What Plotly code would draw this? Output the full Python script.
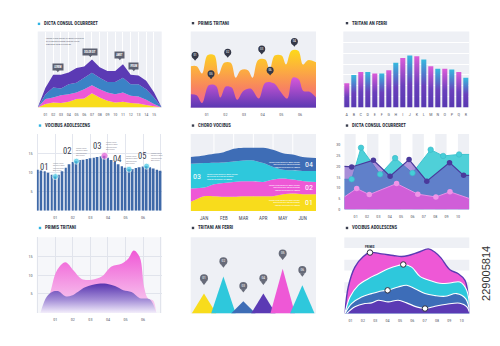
import plotly.graph_objects as go

W, H = 500, 346
FONT = "Liberation Sans Narrow, Roboto Condensed, DejaVu Sans Condensed, Roboto, sans-serif"
BG = "#eef0f5"
TITLE_C = "#2c3040"
TICK_C = "#5a5e6c"
PURPLE = "#5b3ab4"
BLUE = "#3e6db6"
CYAN = "#2ec8dc"
PINK = "#ee58d6"
YELLOW = "#f8dc1c"
DARK = "#3a3e4e"
MARK_CYAN = "#2fb3e3"

# ------------------------------------------------------------------ DATA
titles = ["DICTA CONSUL OCURRERET", "PRIMIS TRITANI", "TRITANI AN FERRI",
          "VOCIBUS ADOLESCENS", "CHORO VOCIBUS", "DICTA CONSUL OCURRERET",
          "PRIMIS TRITANI", "TRITANI AN FERRI", "VOCIBUS ADOLESCENS"]

# Panel 1 : stacked mountains
p1_x = list(range(17))
p1_ticks = [f"{i:02d}" for i in range(1, 16)]
p1_yellow = [0, 4.3, 6.5, 5.7, 7.4, 10.9, 11.7, 18.7, 13, 8.7, 6.5, 7.4, 5.7, 5.2, 3, 1.3, 0]
p1_pink = [0, 6.6, 6.5, 10.4, 10, 8.7, 12.2, 10.4, 10.9, 10.9, 10.9, 12.2, 9.5, 9.1, 7, 3, 0]
p1_blue = [0, 6.5, 13.1, 8.7, 13, 13, 15.2, 16.6, 15.2, 13.9, 16.1, 19.5, 15.2, 16.1, 13.9, 8.7, 0]
p1_purple = [0, 8.6, 16.9, 18.2, 15.6, 19.4, 14.9, 17.3, 13.9, 14.5, 14.5, 17.9, 12.6, 11.6, 11.1, 7, 0]
p1_callout_x = [2.6, 6.8, 10.6, 12.4]
p1_callout_y = [53, 72.6, 68.7, 54.3]
p1_callout_text = ["LOREM", "DOLOR SIT", "AMET", "IPSUM"]
p1_note = "LOREM IPSUM DOLOR SIT AMET CONSECTE<br>ELIT SED DO EIUSMOD TEMPOR INCIDI<br>MAGNA ALIQUA UT ENIM AD"

# Panel 2 : wavy columns
p2_ticks = [f"{i:02d}" for i in range(1, 7)]
p2_orange_x = [0.14, 0.46, 0.75, 1.04, 1.41, 1.64, 1.93, 2.29, 2.55, 2.82, 3.21, 3.46,
               3.75, 4.14, 4.38, 4.64, 5.02, 5.25, 5.54, 5.91, 6.16, 6.43, 6.86]
p2_orange_y = [54.3, 54.3, 44.8, 68.7, 68.7, 43.5, 58.7, 58.7, 39.1, 49.1, 49.1, 39.1,
               62.2, 63, 50, 68.3, 68.3, 56.5, 74.8, 74.8, 56.5, 62.2, 59.6]
p2_purple_x = [0.14, 0.46, 0.75, 1.11, 1.5, 1.73, 2.02, 2.34, 2.63, 2.96, 3.36, 3.79,
               4.14, 4.61, 4.93, 5.32, 5.61, 5.93, 6.18, 6.54, 6.86]
p2_purple_y = [17.4, 16.1, 5.7, 29.1, 28.3, 13, 27.4, 26.1, 10, 21.7, 24.8, 11.7,
               32.6, 31.7, 21.7, 11.7, 39.1, 37, 21.7, 20.4, 13]
p2_pin_x = [0.375, 1.23, 2.125, 3.95, 4.4, 5.7]
p2_pin_y = [68.7, 44.3, 72.6, 77, 49, 87]
p2_pin_text = ["01", "05", "02", "03", "06", "04"]

# Panel 3 : gradient bars
p3_labels = list("ABCDEFGHIJKLMNOPQR")
p3_values = [31.7, 42.6, 46.5, 46.5, 44.8, 44.8, 49.1, 58.7, 65.2, 68.3, 67.4, 63,
             54.3, 50.9, 50.9, 50, 46.5, 39.1]

# Panel 4 : thin bars with highlighted points
p4_x = [round(i * 0.2, 1) for i in range(36)]
p4_values = [10.7, 10.5, 10.3, 9.9, 9.4, 8.9, 9.4, 10.3, 11.2, 12.1, 12.7, 12.9,
             13.2, 13.3, 13.5, 13.7, 13.8, 14.0, 14.2, 14.3, 13.8, 13.2, 12.7, 12.1,
             11.6, 11.2, 10.8, 10.9, 11.1, 11.3, 11.5, 11.6, 11.3, 11.0, 10.7, 10.4]
p4_ticks = [f"{i:02d}" for i in range(1, 7)]
p4_mark_idx = [5, 11, 19, 26, 31]
p4_mark_text = ["01", "02", "03", "04", "05"]
p4_highlight = 19
p4_note = "LOREM IPSUM<br>DOLOR SIT AME<br>CONSECTETUR<br>ADIPISCING"

# Panel 5 : stacked streams
p5_months = ["JAN", "FEB", "MAR", "APR", "MAY", "JUN"]
p5_x = [-0.68, 0, 0.5, 1, 1.5, 2, 2.5, 3, 3.5, 4, 4.5, 5, 5.68]
p5_yellow = [12, 19.3, 19.3, 18.5, 18.5, 19.3, 19.3, 19.3, 19.3, 21.9, 22.7, 21.9, 21.9]
p5_pink = [17.2, 11.2, 15.5, 18, 19.3, 19.3, 19.3, 18.5, 21.5, 20.2, 18.1, 17.2, 15.9]
p5_cyan = [32.2, 31.7, 27.9, 26.6, 26.6, 27.1, 27.1, 24.4, 16.3, 11.5, 12, 12.8, 14.1]
p5_blue = [8.6, 9.9, 11.5, 13.3, 16.3, 16.3, 16.3, 19.8, 22.3, 21.5, 20.6, 18.1, 16.8]
p5_note = "LOREM IPSUM DOLOR SIT AMET CONSEC<br>ADIPISCING ELIT SED DO EIUSMOD<br>TEMPOR INCIDIDUNT UT LABORE"

# Panel 6 : overlapping areas
p6_ticks = [f"{i:02d}" for i in range(1, 11)]
p6_cyan_x = [0, 0.65, 1.47, 3.15, 4.47, 6.0, 7.6, 8.7, 10.1, 11]
p6_cyan_y = [14, 14, 28.6, 16.3, 23.8, 16.9, 27.7, 24.8, 25.5, 25.5]
p6_purple_x = [0, 0.65, 2.56, 4.03, 5.7, 7.26, 9.26, 10.5, 11]
p6_purple_y = [20, 19.7, 22.8, 15.4, 23.1, 13.1, 21.7, 15.8, 15.8]
p6_pink_x = [0, 1.09, 2.2, 4.6, 6.47, 8.06, 9.3, 11]
p6_pink_y = [5.8, 9.7, 6.9, 12.0, 7.1, 5.8, 8.2, 5.1]

# Panel 7 : smooth gradient areas
p7_ticks = [f"{i:02d}" for i in range(1, 7)]
p7_pink_x = [0.34, 0.72, 1.09, 1.57, 2.04, 2.5, 3.08, 3.64, 4.2, 4.77, 5.15, 5.47,
             5.81, 6.06, 6.28, 6.57, 6.75]
p7_pink_y = [0, 5.5, 11.2, 13.4, 11.2, 9.0, 8.8, 9.6, 12.3, 13, 14.3, 16.5,
             14.7, 6.8, 3.8, 3.3, 0]
p7_purple_x = [0.15, 0.53, 0.91, 1.19, 1.57, 1.94, 2.7, 3.45, 3.92, 4.4, 4.87, 5.34,
               5.81, 6.38, 6.75]
p7_purple_y = [0, 4.4, 5.7, 5.7, 4.4, 4.6, 6.8, 7.7, 7.7, 7.1, 6.0, 5.5, 3.9, 3.6, 0]

# Panel 8 : peaks
p8_center = [10.6, 26.1, 42, 58, 73.4, 89.1]
p8_height = [26.1, 48.7, 16.1, 26.1, 58.7, 37]
p8_colors = [YELLOW, CYAN, BLUE, PURPLE, PINK, CYAN]
p8_text = ["01", "02", "03", "04", "05", "06"]

# Panel 9 : nested smooth layers
p9_ticks = [f"{i:02d}" for i in range(1, 11)]
p9_pink_x = [0.54, 0.81, 1.35, 2.03, 2.57, 3.51, 4.46, 5.14, 5.68, 6.49, 7.30, 7.84,
             8.32, 9.05, 9.73, 10.27, 10.54, 10.68]
p9_pink_y = [0, 3.48, 6.09, 7.48, 8.0, 7.83, 7.61, 7.48, 7.61, 8.04, 8.48, 8.04,
             7.30, 5.74, 5.22, 4.35, 2.17, 0]
p9_cyan_x = [0.54, 0.95, 1.62, 2.43, 3.24, 4.05, 4.86, 5.27, 5.95, 6.62, 7.57, 8.24,
             9.05, 9.86, 10.41, 10.68]
p9_cyan_y = [0, 2.17, 3.70, 4.57, 5.22, 5.87, 6.30, 6.43, 6.09, 4.87, 4.26, 3.96,
             4.0, 4.13, 3.04, 0]
p9_blue_x = [0.54, 1.08, 1.89, 2.70, 3.51, 4.0, 4.86, 5.54, 6.22, 7.03, 7.84, 8.65,
             9.59, 10.32, 10.68]
p9_blue_y = [0, 1.30, 2.17, 2.61, 2.96, 3.04, 3.48, 3.70, 3.26, 2.61, 2.35, 2.26,
             2.61, 1.96, 0]
p9_purple_x = [0.68, 1.35, 2.16, 2.70, 3.24, 4.05, 4.86, 5.54, 6.35, 7.03, 7.84, 8.78,
               9.86, 10.41, 10.68]
p9_purple_y = [0, 0.87, 1.30, 1.39, 1.74, 1.52, 1.74, 1.39, 0.87, 0.65, 0.96, 1.22,
               1.35, 0.91, 0]
p9_marks = [("pink", 4), ("cyan", 7), ("blue", 5), ("purple", 9)]
p9_label = "PRIMIS"

stock_id = "229005814"

# ------------------------------------------------------------------ LAYOUT HELPERS
fig = go.Figure()
layout = dict(width=W, height=H, margin=dict(l=0, r=0, t=0, b=0),
              paper_bgcolor="white", plot_bgcolor="rgba(0,0,0,0)", showlegend=False,
              font=dict(family=FONT, size=4, color=TICK_C), hovermode=False)
shapes, annotations = [], []
TICKFONT = dict(family=FONT, size=4.2, color=TICK_C)


def refs(n):
    s = "" if n == 1 else str(n)
    return "x" + s, "y" + s


def make_axes(n, box, xr, yr, xt=None, yt=None, xgrid=None, ygrid=None, bg=None,
              xfont=None):
    left, right, top, bottom = box
    s = "" if n == 1 else str(n)
    xr_, yr_ = refs(n)
    xa = dict(domain=[left / W, right / W], range=xr, anchor=yr_, fixedrange=True,
              zeroline=False, showline=False, ticks="", layer="below traces",
              showgrid=xgrid is not None, gridcolor=xgrid or "white", gridwidth=1,
              tickfont=xfont or TICKFONT, ticklabelstandoff=3)
    ya = dict(domain=[1 - bottom / H, 1 - top / H], range=yr, anchor=xr_, fixedrange=True,
              zeroline=False, showline=False, ticks="", layer="below traces",
              showgrid=ygrid is not None, gridcolor=ygrid or "white", gridwidth=1,
              tickfont=TICKFONT, ticklabelstandoff=3)
    for ax, t in ((xa, xt), (ya, yt)):
        if t is None:
            ax.update(tickmode="array", tickvals=[], showticklabels=False)
        else:
            ax.update(tickmode="array", tickvals=t[0], ticktext=t[1], showticklabels=True)
    layout["xaxis" + s] = xa
    layout["yaxis" + s] = ya
    if bg:
        shapes.append(dict(type="rect", xref=xr_ + " domain", yref=yr_ + " domain",
                           x0=0, x1=1, y0=0, y1=1, fillcolor=bg, line_width=0,
                           layer="below"))


def add(n, **kw):
    xr_, yr_ = refs(n)
    kw.setdefault("showlegend", False)
    kw.setdefault("hoverinfo", "skip")
    fig.add_trace(go.Scatter(xaxis=xr_, yaxis=yr_, **kw))


def title(text, px, py, mark):
    shapes.append(dict(type="rect", xref="paper", yref="paper",
                       x0=(px - 4.2) / W, x1=(px - 1.8) / W,
                       y0=1 - (py + 1.2) / H, y1=1 - (py - 1.2) / H,
                       fillcolor=mark, line_width=0))
    annotations.append(dict(xref="paper", yref="paper", x=px / W, y=1 - py / H,
                            text="<b>" + text + "</b>", showarrow=False,
                            xanchor="left", yanchor="middle",
                            font=dict(family=FONT, size=4.8, color=TITLE_C)))


# ------------------------------------------------------------------ PANEL BOXES (px)
BOX = {
    1: (37.7, 161.7, 31.7, 108), 2: (190.7, 316, 31.7, 108), 3: (343.3, 469.3, 31.7, 108),
    4: (36.7, 161.7, 134.7, 212), 5: (190.7, 316, 134.7, 212.3), 6: (344.3, 469.3, 134.7, 210.7),
    7: (36.7, 161.7, 238.7, 314.7), 8: (190.7, 316, 238.7, 315.3), 9: (344.3, 469.3, 238.7, 315.3),
}
TITLE_POS = {1: (42, 24), 2: (196, 23.3), 3: (350, 23.3), 4: (43, 126.3), 5: (196, 126.3),
             6: (350, 126.3), 7: (43, 229.3), 8: (196, 229.3), 9: (350, 229.3)}
TITLE_MARK = {1: MARK_CYAN, 2: DARK, 3: DARK, 4: MARK_CYAN, 5: DARK, 6: DARK,
              7: MARK_CYAN, 8: DARK, 9: DARK}
for i in range(1, 10):
    title(titles[i - 1], TITLE_POS[i][0], TITLE_POS[i][1], TITLE_MARK[i])

# ------------------------------------------------------------------ PANEL 1
make_axes(1, BOX[1], [0, 16], [0, 100], xt=(list(range(1, 16)), p1_ticks),
          xgrid="white", bg=BG)
for vals, col in ((p1_yellow, YELLOW), (p1_pink, PINK), (p1_blue, "#3b82c6"),
                  (p1_purple, PURPLE)):
    add(1, x=p1_x, y=vals, stackgroup="p1", mode="lines", line=dict(width=0, color=col),
        fillcolor=col)
add(1, x=p1_callout_x, y=[v - 4.6 for v in p1_callout_y], mode="markers",
    marker=dict(symbol="triangle-down", size=3, color="#5c6070"))
for cx, cy, t in zip(p1_callout_x, p1_callout_y, p1_callout_text):
    annotations.append(dict(xref="x", yref="y", x=cx, y=cy, text="<b>" + t + "</b>",
                            showarrow=False, bgcolor="#5c6070", borderpad=1.2,
                            font=dict(family=FONT, size=2.6, color="white")))
annotations.append(dict(xref="x", yref="y", x=0.75, y=87, text=p1_note, showarrow=False,
                        xanchor="left", yanchor="middle", align="left",
                        font=dict(family=FONT, size=2.2, color="#6f7280")))

# ------------------------------------------------------------------ PANEL 2
make_axes(2, BOX[2], [0.14, 6.86], [0, 100], xt=(list(range(1, 7)), p2_ticks), bg=BG)
add(2, x=p2_orange_x, y=p2_orange_y, mode="lines", line=dict(width=0, shape="spline",
    smoothing=1.0), fill="tozeroy",
    fillgradient=dict(type="vertical", start=0, stop=75,
                      colorscale=[[0, "#f2609e"], [0.35, "#f8845f"], [0.7, "#fcb23c"],
                                  [1, "#fdd71b"]]))
add(2, x=p2_purple_x, y=p2_purple_y, mode="lines", line=dict(width=0, shape="spline",
    smoothing=1.0), fill="tozeroy",
    fillgradient=dict(type="vertical", start=0, stop=39,
                      colorscale=[[0, "#5a38b2"], [1, "#d457d8"]]))
shapes.append(dict(type="line", xref="x2 domain", yref="y2", x0=0, x1=1, y0=0, y1=0,
                   line=dict(color=PURPLE, width=1.2)))
add(2, x=p2_pin_x, y=[v - 4.5 for v in p2_pin_y], mode="markers",
    marker=dict(symbol="triangle-down", size=4, color="#343848"))
add(2, x=p2_pin_x, y=p2_pin_y, mode="markers+text", text=p2_pin_text,
    textposition="middle center", textfont=dict(family=FONT, size=3.3, color="white"),
    marker=dict(size=7, color="#343848"))

# ------------------------------------------------------------------ PANEL 3
grid3 = [k * 100 / 7 for k in range(1, 7)]
make_axes(3, BOX[3], [-0.5, 17.5], [0, 100], xt=(list(range(18)), p3_labels),
          yt=(grid3, [""] * 6), ygrid="white", bg=BG)
BW3 = 0.72
for i, h in enumerate(p3_values):
    top = "#db5bd8" if i % 2 == 0 else "#36b9de"
    add(3, x=[i - BW3 / 2, i - BW3 / 2, i + BW3 / 2, i + BW3 / 2, i - BW3 / 2],
        y=[0, h, h, 0, 0], mode="lines", line=dict(width=0), fill="toself",
        fillgradient=dict(type="vertical", start=0, stop=h,
                          colorscale=[[0, "#5637b0"], [0.45, "#6a40bc"], [1, top]]))

# ------------------------------------------------------------------ PANEL 4
make_axes(4, BOX[4], [-0.06, 7.06], [0, 20],
          xt=(list(range(8)), [""] + p4_ticks + [""]),
          yt=([5, 10, 15, 20], ["5", "10", "15", ""]),
          xgrid="#e3e6ee", ygrid="#e3e6ee")
fig.add_trace(go.Bar(x=p4_x, y=p4_values, width=0.11, marker=dict(color="#3f69a8", line_width=0),
                     xaxis="x4", yaxis="y4", showlegend=False, hoverinfo="skip"))
mx = [p4_x[i] for i in p4_mark_idx]
my = [p4_values[i] for i in p4_mark_idx]
mc = ["#e45bd8" if i == p4_highlight else "#3ec5e3" for i in p4_mark_idx]
ms = [7 if i == p4_highlight else 6 for i in p4_mark_idx]
add(4, x=mx, y=my, mode="markers", marker=dict(size=ms, color=mc,
    line=dict(color="white", width=0.8)))
LABEL_DX4 = [-0.28, -0.19, -0.07, -0.34, 0.09]   # label placement offsets (layout)
for x, y, t, dx in zip(mx, my, p4_mark_text, LABEL_DX4):
    annotations.append(dict(xref="x4", yref="y4", x=x + dx, y=y + 2.6, text=t,
                            showarrow=False, xanchor="right", yanchor="middle",
                            font=dict(family=FONT, size=8.5, color="#363a4c")))
    annotations.append(dict(xref="x4", yref="y4", x=x + dx + 0.05, y=y + 2.6,
                            text=p4_note,
                            showarrow=False, xanchor="left", yanchor="middle", align="left",
                            font=dict(family=FONT, size=1.8, color="#8a8d99")))

# ------------------------------------------------------------------ PANEL 5
make_axes(5, BOX[5], [-0.68, 5.68], [0, 100], xt=(list(range(6)), p5_months), bg=BG,
          xfont=dict(family=FONT, size=5, color="#444857"))
for k in range(5):
    shapes.append(dict(type="line", xref="x5", yref="y5 domain", x0=k + 0.5, x1=k + 0.5,
                       y0=0, y1=1, line=dict(color="white", width=1), layer="below"))
for vals, col in ((p5_yellow, YELLOW), (p5_pink, PINK), (p5_cyan, CYAN), (p5_blue, BLUE)):
    add(5, x=p5_x, y=vals, stackgroup="p5", mode="lines",
        line=dict(width=0, color=col, shape="spline", smoothing=0.8), fillcolor=col)
c0 = [0.0] * len(p5_x)
cum = []
for vals in (p5_yellow, p5_pink, p5_cyan, p5_blue):
    cum.append([a + b / 2 for a, b in zip(c0, vals)])
    c0 = [a + b for a, b in zip(c0, vals)]
RI = 11
right_lbl = [("01", cum[0][RI]), ("02", cum[1][RI]), ("04", cum[3][RI])]
for t, y in right_lbl:
    annotations.append(dict(xref="x5", yref="y5", x=p5_x[RI] + 0.3, y=y, text=t,
                            showarrow=False, xanchor="center", yanchor="middle",
                            font=dict(family=FONT, size=8, color="white")))
    annotations.append(dict(xref="x5", yref="y5", x=p5_x[RI] - 0.02, y=y,
                            text=p5_note,
                            showarrow=False, xanchor="right", yanchor="middle", align="right",
                            font=dict(family=FONT, size=1.9, color="white")))
annotations.append(dict(xref="x5", yref="y5", x=p5_x[0] + 0.3, y=cum[2][0], text="03",
                        showarrow=False, xanchor="center", yanchor="middle",
                        font=dict(family=FONT, size=8, color="white")))
annotations.append(dict(xref="x5", yref="y5", x=p5_x[0] + 0.72, y=cum[2][0],
                        text=p5_note,
                        showarrow=False, xanchor="left", yanchor="middle", align="left",
                        font=dict(family=FONT, size=1.9, color="white")))

# ------------------------------------------------------------------ PANEL 6
make_axes(6, BOX[6], [0, 11], [0, 35], xt=(list(range(1, 11)), p6_ticks),
          yt=([0, 5, 10, 15, 20, 25, 30], ["0", "5", "10", "15", "20", "25", "30"]))
for k in range(0, 11, 2):
    shapes.append(dict(type="rect", xref="x6", yref="y6 domain", x0=k, x1=k + 1, y0=0, y1=1,
                       fillcolor=BG, line_width=0, layer="below"))
add(6, x=p6_cyan_x, y=p6_cyan_y, mode="lines", fill="tozeroy",
    fillcolor="rgba(70,205,214,0.95)", line=dict(color="#3cc4cf", width=1))
add(6, x=p6_purple_x, y=p6_purple_y, mode="lines", fill="tozeroy",
    fillcolor="rgba(112,62,192,0.55)", line=dict(color="#4a3a9c", width=1.2))
add(6, x=p6_pink_x, y=p6_pink_y, mode="lines", fill="tozeroy",
    fillcolor="rgba(214,92,216,0.95)", line=dict(color="#ea8fe6", width=1))
add(6, x=p6_cyan_x[1:-1], y=p6_cyan_y[1:-1], mode="markers",
    marker=dict(size=5.5, color="#45cdd8", line=dict(color="#3ab8c4", width=0.6)))
add(6, x=p6_purple_x[1:-1], y=p6_purple_y[1:-1], mode="markers",
    marker=dict(size=5.5, color="#4a3a9c"))
add(6, x=p6_pink_x[1:-1], y=p6_pink_y[1:-1], mode="markers",
    marker=dict(size=5.5, color="#f094e8"))

# ------------------------------------------------------------------ PANEL 7
make_axes(7, BOX[7], [-0.06, 7.06], [0, 20],
          xt=(list(range(8)), [""] + p7_ticks + [""]),
          yt=([5, 10, 15, 20], ["5", "10", "15", ""]),
          xgrid="#e1e4ec", ygrid="#e1e4ec", bg="#f6f7fa")
add(7, x=p7_pink_x, y=p7_pink_y, mode="lines", fill="tozeroy",
    line=dict(width=0, shape="spline", smoothing=1.0),
    fillgradient=dict(type="vertical", start=0, stop=16.5,
                      colorscale=[[0, "#f9d9f3"], [0.5, "#f49ae4"], [1, "#f058d6"]]))
add(7, x=p7_purple_x, y=p7_purple_y, mode="lines", fill="tozeroy",
    line=dict(width=0, shape="spline", smoothing=1.0),
    fillgradient=dict(type="vertical", start=0, stop=7.7,
                      colorscale=[[0, "rgba(245,240,252,1)"], [0.45, "#a690d8"],
                                  [1, "#5a36b0"]]))

# ------------------------------------------------------------------ PANEL 8
make_axes(8, BOX[8], [0, 100], [0, 100], bg=BG)
HW8 = 9.8
for c, h, col in zip(p8_center, p8_height, p8_colors):
    add(8, x=[c - HW8, c, c + HW8, c - HW8], y=[0, h, 0, 0], mode="lines",
        line=dict(width=0), fill="toself", fillcolor=col)
PIN8 = 20
add(8, x=p8_center, y=[h + PIN8 - 6 for h in p8_height], mode="markers",
    marker=dict(symbol="triangle-down", size=4, color="#676b79"))
add(8, x=p8_center, y=[h + PIN8 for h in p8_height], mode="markers+text", text=p8_text,
    textposition="middle center", textfont=dict(family=FONT, size=3.6, color="white"),
    marker=dict(size=8, color="#676b79"))

# ------------------------------------------------------------------ PANEL 9
make_axes(9, BOX[9], [0.49, 10.62], [0, 10], xt=(list(range(1, 11)), p9_ticks))
for y0, y1 in ((8.6, 10), (5.65, 7.05), (2.7, 4.1)):
    shapes.append(dict(type="rect", xref="x9 domain", yref="y9", x0=0, x1=1, y0=y0, y1=y1,
                       fillcolor=BG, line_width=0, layer="below"))
p9 = {"pink": (p9_pink_x, p9_pink_y), "cyan": (p9_cyan_x, p9_cyan_y),
      "blue": (p9_blue_x, p9_blue_y), "purple": (p9_purple_x, p9_purple_y)}
p9_style = {"pink": (PINK, PURPLE, 1.4), "cyan": (CYAN, "white", 1.1),
            "blue": ("#3d6db8", "white", 1.1), "purple": (PURPLE, "white", 1.1)}
for key in ("pink", "cyan", "blue", "purple"):
    xs, ys = p9[key]
    fc, lc, lw = p9_style[key]
    add(9, x=xs, y=ys, mode="lines", fill="tozeroy", fillcolor=fc,
        line=dict(color=lc, width=lw, shape="spline", smoothing=1.0))
mx9 = [p9[k][0][i] for k, i in p9_marks]
my9 = [p9[k][1][i] for k, i in p9_marks]
add(9, x=mx9, y=my9, mode="markers",
    marker=dict(size=5.5, color="white", line=dict(color="#2c2f3d", width=1)))
annotations.append(dict(xref="x9", yref="y9", x=mx9[0], y=my9[0] + 0.75, text="<b>" + p9_label + "</b>",
                        showarrow=False, font=dict(family=FONT, size=3.2, color="#2c2f3d")))

# ------------------------------------------------------------------ STOCK ID
annotations.append(dict(xref="paper", yref="paper", x=486.5 / W, y=1 - 275 / H, text=stock_id,
                        textangle=-90, showarrow=False, xanchor="center", yanchor="middle",
                        font=dict(family="Liberation Sans, Arial, sans-serif", size=11,
                                  color="#333333")))

layout["shapes"] = shapes
layout["annotations"] = annotations
fig.update_layout(**layout)
fig.write_html("out.html")
